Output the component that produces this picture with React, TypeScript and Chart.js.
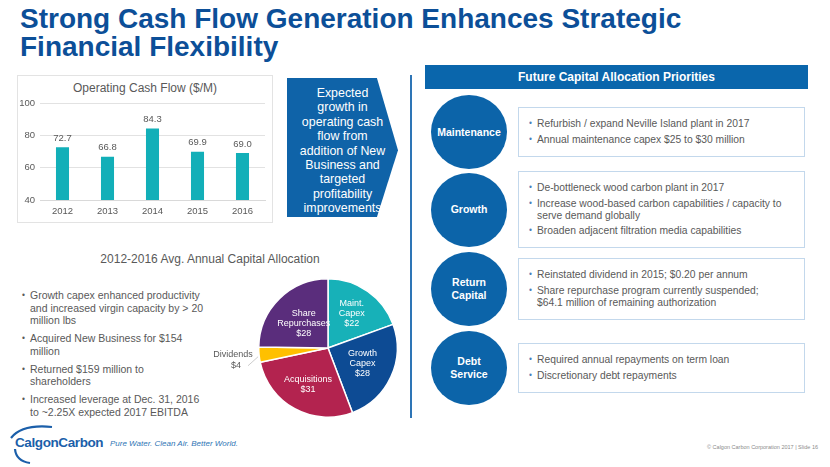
import React, { useEffect, useRef } from 'react';
import { Chart, registerables } from 'chart.js';

Chart.register(...registerables);

// ---------- DATA ----------
const years = ['2012', '2013', '2014', '2015', '2016'];
const operatingCashFlow = [72.7, 66.8, 84.3, 69.9, 69.0];
const cashFlowAxisMin = 40;
const cashFlowAxisMax = 100;
const cashFlowAxisStep = 20;

const allocationLabels = [['Maint.', 'Capex'], ['Growth', 'Capex'], ['Acquisitions'], ['Dividends'], ['Share', 'Repurchases']];
const allocationValues = [22, 28, 31, 4, 28];
const allocationColors = ['#17B1B8', '#0D4B94', '#B3234F', '#FFC000', '#5A2D7C'];

const FONT = '"Liberation Sans", Arial, Helvetica, sans-serif';
const GRAY = '#595959';

const barValueLabels = {
  id: 'barValueLabels',
  afterDatasetsDraw(chart: any) {
    const { ctx } = chart;
    const meta = chart.getDatasetMeta(0);
    const data = chart.data.datasets[0].data;
    ctx.save();
    ctx.font = `9.5px ${FONT}`;
    ctx.fillStyle = GRAY;
    ctx.textAlign = 'center';
    ctx.textBaseline = 'middle';
    meta.data.forEach((bar: any, i: number) => {
      ctx.fillText(Number(data[i]).toFixed(1), bar.x, bar.y - 9);
    });
    ctx.restore();
  },
};

const pieLabelFractions = [0.6, 0.55, 0.6, 0, 0.5];

const pieLabels = {
  id: 'pieLabels',
  afterDatasetsDraw(chart: any) {
    const { ctx } = chart;
    const meta = chart.getDatasetMeta(0);
    const data = chart.data.datasets[0].data as number[];
    const total = data.reduce((a, b) => a + b, 0);
    ctx.save();
    ctx.font = `9px ${FONT}`;
    ctx.textAlign = 'center';
    ctx.textBaseline = 'middle';
    meta.data.forEach((arc: any, i: number) => {
      const p = arc.getProps(['x', 'y', 'startAngle', 'endAngle', 'outerRadius'], true);
      const mid = (p.startAngle + p.endAngle) / 2;
      const lines = [...allocationLabels[i], '$' + data[i]];
      if (data[i] / total < 0.06) {
        const ex = p.x + Math.cos(mid) * p.outerRadius;
        const ey = p.y + Math.sin(mid) * p.outerRadius;
        ctx.strokeStyle = '#bfbfbf';
        ctx.lineWidth = 0.8;
        ctx.beginPath();
        ctx.moveTo(ex - 1, ey + 2);
        ctx.lineTo(ex - 11, ey + 11);
        ctx.stroke();
        ctx.fillStyle = GRAY;
        ctx.fillText(lines[0], ex - 26, ey);
        ctx.fillText(lines[1], ex - 23, ey + 11);
      } else {
        const r = p.outerRadius * pieLabelFractions[i];
        const cx = p.x + Math.cos(mid) * r;
        const cy = p.y + Math.sin(mid) * r;
        ctx.fillStyle = '#ffffff';
        const lh = 10;
        const startY = cy - ((lines.length - 1) * lh) / 2;
        lines.forEach((t, k) => ctx.fillText(t, cx, startY + k * lh));
      }
    });
    ctx.restore();
  },
};

function BarChart() {
  const ref = useRef<HTMLCanvasElement>(null);
  useEffect(() => {
    const chart = new Chart(ref.current as HTMLCanvasElement, {
      type: 'bar',
      data: {
        labels: years,
        datasets: [
          {
            data: operatingCashFlow,
            backgroundColor: '#12AFB8',
            barPercentage: 0.29,
            categoryPercentage: 1,
          },
        ],
      },
      options: {
        animation: false,
        responsive: false,
        maintainAspectRatio: false,
        layout: { padding: { top: 28, right: 7, left: 0, bottom: 0 } },
        plugins: { legend: { display: false }, title: { display: false }, tooltip: { enabled: false } },
        scales: {
          x: {
            grid: { display: false, drawTicks: false },
            border: { color: '#d9d9d9' },
            ticks: { color: GRAY, font: { size: 9.5, family: FONT }, padding: 6 },
            afterFit: (s: any) => {
              s.height = 22;
            },
          },
          y: {
            min: cashFlowAxisMin,
            max: cashFlowAxisMax,
            ticks: { stepSize: cashFlowAxisStep, color: GRAY, font: { size: 9.5, family: FONT }, padding: 5 },
            grid: { color: '#e2e2e2', drawTicks: false },
            border: { display: false },
            afterFit: (s: any) => {
              s.width = 23;
            },
          },
        },
      } as any,
      plugins: [barValueLabels],
    });
    return () => chart.destroy();
  }, []);
  return <canvas ref={ref} width={255} height={147} style={{ position: 'absolute', left: 17, top: 75, width: 255, height: 147 }} />;
}

function PieChart() {
  const ref = useRef<HTMLCanvasElement>(null);
  useEffect(() => {
    const chart = new Chart(ref.current as HTMLCanvasElement, {
      type: 'pie',
      data: {
        labels: allocationLabels.map((l) => l.join(' ')),
        datasets: [
          {
            data: allocationValues,
            backgroundColor: allocationColors,
            borderColor: '#ffffff',
            borderWidth: 1.5,
          },
        ],
      },
      options: {
        animation: false,
        responsive: false,
        maintainAspectRatio: false,
        layout: { padding: { left: 58, right: 12, top: 8, bottom: 7 } },
        plugins: { legend: { display: false }, tooltip: { enabled: false } },
      } as any,
      plugins: [pieLabels],
    });
    return () => chart.destroy();
  }, []);
  return <canvas ref={ref} width={210} height={155} style={{ position: 'absolute', left: 200, top: 270, width: 210, height: 155 }} />;
}

const abs = (s: React.CSSProperties): React.CSSProperties => ({ position: 'absolute', ...s });

function Bullets({ items, size, lh, gap, bulletColor, color }: { items: React.ReactNode[]; size: number; lh: number; gap: number; bulletColor: string; color: string }) {
  return (
    <div>
      {items.map((it, i) => (
        <div key={i} style={{ position: 'relative', paddingLeft: 8, marginTop: i === 0 ? 0 : gap, fontSize: size, lineHeight: lh + 'px', color }}>
          <span style={{ position: 'absolute', left: 0, top: 0, color: bulletColor, fontSize: size * 0.8 }}>•</span>
          {it}
        </div>
      ))}
    </div>
  );
}

const priorities = [
  { title: ['Maintenance'], top: 107, height: 50, items: ['Refurbish / expand Neville Island plant in 2017', 'Annual maintenance capex $25 to $30 million'] },
  {
    title: ['Growth'],
    top: 171,
    height: 77,
    items: [
      'De-bottleneck wood carbon plant in 2017',
      <>Increase wood-based carbon capabilities / capacity to<br />serve demand globally</>,
      'Broaden adjacent filtration media capabilities',
    ],
  },
  {
    title: ['Return', 'Capital'],
    top: 258,
    height: 62,
    items: ['Reinstated dividend in 2015; $0.20 per annum', <>Share repurchase program currently suspended;<br />$64.1 million of remaining authorization</>],
  },
  { title: ['Debt', 'Service'], top: 343, height: 50, items: ['Required annual repayments on term loan', 'Discretionary debt repayments'] },
];

export default function App() {
  return (
    <div style={{ position: 'absolute', left: 0, top: 0, width: 830, height: 467, overflow: 'hidden', background: '#fff', fontFamily: FONT }}>
      {/* Title */}
      <div
        style={abs({
          left: 20,
          top: 5,
          fontFamily: FONT,
          fontWeight: 'bold',
          fontSize: 28,
          lineHeight: '28px',
          color: '#0C4F98',
          whiteSpace: 'nowrap',
        })}
      >
        Strong Cash Flow Generation Enhances Strategic
        <br />
        Financial Flexibility
      </div>

      {/* Bar chart frame */}
      <div style={abs({ left: 17, top: 75, width: 254, height: 146, border: '1px solid #e3e3e3' })} />
      <div style={abs({ left: 17, top: 80, width: 256, textAlign: 'center', fontSize: 12, lineHeight: '16px', color: GRAY })}>Operating Cash Flow ($/M)</div>
      <BarChart />

      {/* Arrow */}
      <div
        style={abs({
          left: 287,
          top: 78,
          width: 111,
          height: 139,
          background: '#0F63A8',
          clipPath: 'polygon(0 0, 81% 0, 100% 52%, 81% 100%, 0 100%)',
        })}
      />
      <div style={abs({ left: 287, top: 86, width: 111, textAlign: 'center', color: '#fff', fontSize: 12.4, lineHeight: '14.4px' })}>
        Expected
        <br />
        growth in
        <br />
        operating cash
        <br />
        flow from
        <br />
        addition of New
        <br />
        Business and
        <br />
        targeted
        <br />
        profitability
        <br />
        improvements
      </div>

      {/* Pie title and left bullets */}
      <div style={abs({ left: 60, top: 251, width: 300, textAlign: 'center', fontSize: 12, lineHeight: '16px', color: GRAY })}>2012-2016 Avg. Annual Capital Allocation</div>
      <div style={abs({ left: 22, top: 289, width: 200 })}>
        <Bullets
          size={10.5}
          lh={12.5}
          gap={5.5}
          color={GRAY}
          bulletColor={GRAY}
          items={[
            <>Growth capex enhanced productivity<br />and increased virgin capacity by &gt; 20<br />million lbs</>,
            <>Acquired New Business for $154<br />million</>,
            <>Returned $159 million to<br />shareholders</>,
            <>Increased leverage at Dec. 31, 2016<br />to ~2.25X expected 2017 EBITDA</>,
          ]}
        />
      </div>
      <PieChart />

      {/* Right panel */}
      <div style={abs({ left: 410, top: 75, width: 2, height: 343, background: '#2E75B6' })} />
      <div
        style={abs({
          left: 425,
          top: 65,
          width: 383,
          height: 24,
          background: '#0A66AC',
          color: '#fff',
          fontWeight: 'bold',
          fontSize: 12,
          lineHeight: '24px',
          textAlign: 'center',
        })}
      >
        Future Capital Allocation Priorities
      </div>
      {priorities.map((p, i) => {
        const cy = p.top + p.height / 2;
        return (
          <React.Fragment key={i}>
            <div
              style={abs({
                left: 431,
                top: cy - 37,
                width: 76,
                height: 74,
                borderRadius: '50%',
                background: '#0C64A9',
                color: '#fff',
                fontWeight: 'bold',
                fontSize: 10.5,
                lineHeight: '13px',
                display: 'flex',
                alignItems: 'center',
                justifyContent: 'center',
                textAlign: 'center',
                flexDirection: 'column',
              })}
            >
              {p.title.map((t, k) => (
                <div key={k}>{t}</div>
              ))}
            </div>
            <div
              style={abs({
                left: 518,
                top: p.top,
                width: 275,
                height: p.height - 2,
                border: '1px solid #C3D8EC',
                display: 'flex',
                flexDirection: 'column',
                justifyContent: 'center',
                paddingLeft: 10,
                boxSizing: 'content-box',
              })}
            >
              <Bullets size={10.3} lh={12} gap={3.5} color={GRAY} bulletColor="#4A7EBB" items={p.items} />
            </div>
          </React.Fragment>
        );
      })}

      {/* Footer logo */}
      <svg style={abs({ left: 0, top: 420, width: 120, height: 47 })} width={120} height={47}>
        <path d="M 11 18 Q 22 4 52 7" stroke="#1B5FAA" strokeWidth={2.2} fill="none" />
        <path d="M 15 29 Q 16 41 30 43" stroke="#1B5FAA" strokeWidth={2.2} fill="none" />
      </svg>
      <div style={abs({ left: 15, top: 435, fontSize: 13.5, lineHeight: '16px', color: '#1B5FAA', letterSpacing: -0.4, fontWeight: 'bold' })}>CalgonCarbon</div>
      <div style={abs({ left: 110, top: 439, fontSize: 8, lineHeight: '10px', color: '#2F75B5', fontStyle: 'italic', whiteSpace: 'nowrap' })}>
        Pure Water. Clean Air. Better World.
      </div>
      <div style={abs({ left: 700, top: 444, width: 118, textAlign: 'right', fontSize: 5.5, lineHeight: '7px', color: '#8c8c8c', whiteSpace: 'nowrap' })}>
        © Calgon Carbon Corporation 2017 | Slide 16
      </div>
    </div>
  );
}
